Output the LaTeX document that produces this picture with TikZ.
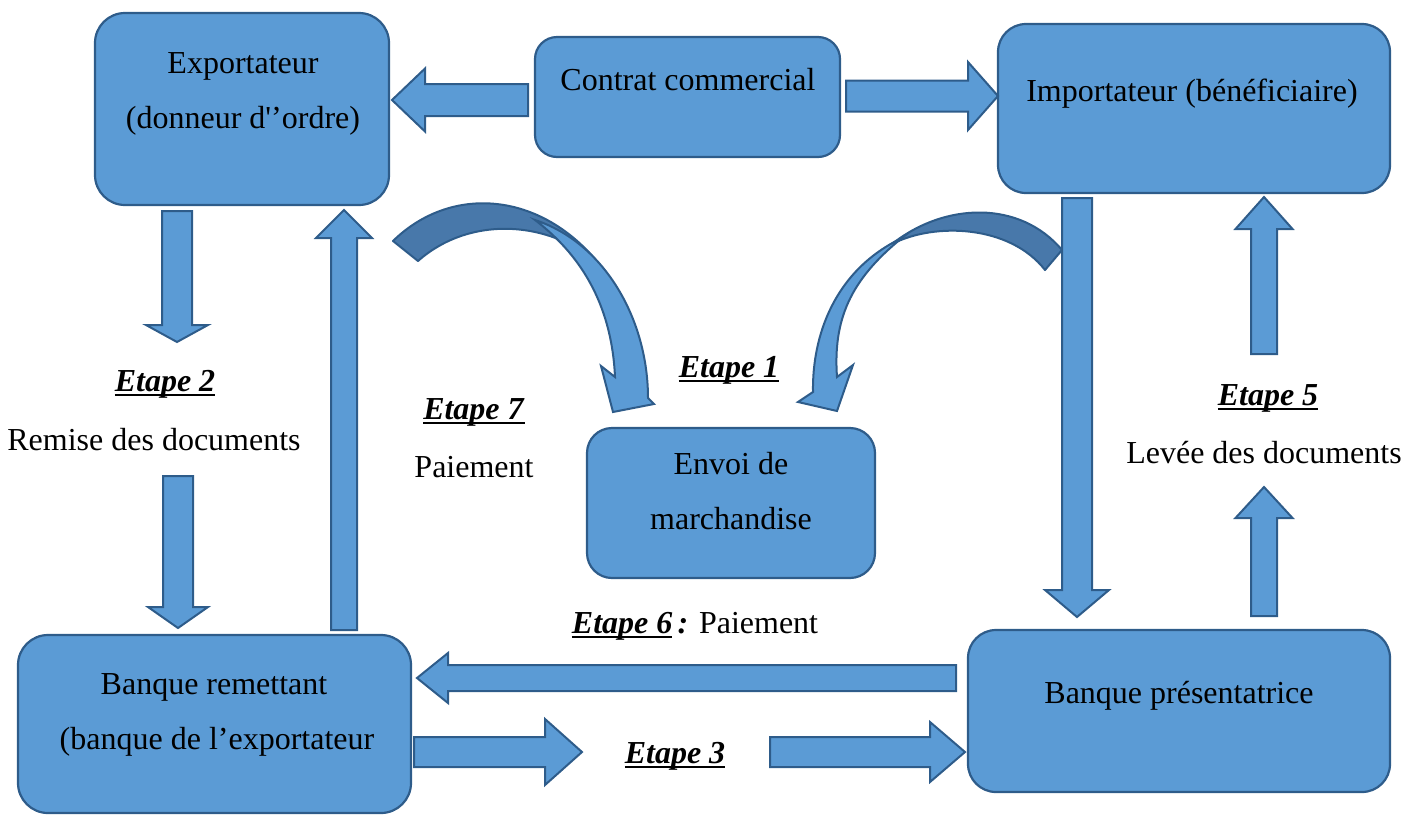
\documentclass[tikz,border=0pt]{standalone}
\usepackage{fontspec}
\setmainfont{Liberation Serif}
\definecolor{fillblue}{HTML}{5B9BD5}
\definecolor{darkblue}{HTML}{4878AA}
\definecolor{edgeblue}{HTML}{2E5C8A}
\newcommand\myul[1]{\setbox0\hbox{#1}\rlap{\rule[-5pt]{\wd0}{2.4pt}}\box0}
\newcommand\etp[1]{\myul{\textbf{\textit{#1}}}}
% horizontal block arrow: tail x, tip x, head-base x, centre y, shaft half, head half
\newcommand\harrow[6]{\draw[barrow] (#1,#4-#5) -- (#3,#4-#5) -- (#3,#4-#6) -- (#2,#4) -- (#3,#4+#6) -- (#3,#4+#5) -- (#1,#4+#5) -- cycle;}
% vertical block arrow: tail y, tip y, head-base y, centre x, shaft half, head half
\newcommand\varrow[6]{\draw[barrow] (#4-#5,#1) -- (#4-#5,#3) -- (#4-#6,#3) -- (#4,#2) -- (#4+#6,#3) -- (#4+#5,#3) -- (#4+#5,#1) -- cycle;}
\begin{document}
\begin{tikzpicture}[x=1pt,y=-1pt,
  box/.style={draw=edgeblue, fill=fillblue, line width=2.2pt, rectangle, inner sep=0pt},
  barrow/.style={draw=edgeblue, fill=fillblue, line width=2pt, line join=miter},
  curvedark/.style={draw=edgeblue, fill=darkblue, line width=2pt, line join=round},
  txt/.style={anchor=base, inner sep=0pt, font=\fontsize{32}{38}\selectfont}]
\useasboundingbox (0,0) rectangle (1416,815);

% boxes
\node[box, rounded corners=30pt, minimum width=294pt, minimum height=192pt] (exp) at (242,109) {};
\node[box, rounded corners=22pt, minimum width=305pt, minimum height=120pt] (con) at (687.5,97) {};
\node[box, rounded corners=28pt, minimum width=392pt, minimum height=169pt] (imp) at (1194,108.5) {};
\node[box, rounded corners=25pt, minimum width=288pt, minimum height=150pt] (env) at (731,503) {};
\node[box, rounded corners=30pt, minimum width=393pt, minimum height=178pt] (brm) at (214.5,724) {};
\node[box, rounded corners=28pt, minimum width=422pt, minimum height=162pt] (bpr) at (1179,711) {};

% curved arrows
\draw[curvedark] (393,241) .. controls (450,185) and (540,190) .. (600,265) .. controls (550,220) and (470,215) .. (418,261) -- cycle;
\draw[barrow] (535,220) .. controls (605,243) and (648,320) .. (648,398) -- (654,404) -- (613,412) -- (601,366) -- (615,377) .. controls (612,310) and (585,258) .. (535,220) -- cycle;
\draw[curvedark] (1062,250) .. controls (1020,200) and (945,202) .. (892,244) .. controls (935,222) and (1010,225) .. (1045,270) -- cycle;
\draw[barrow] (902,238) .. controls (835,270) and (812,335) .. (813,392) -- (798,402) -- (837,411) -- (853,365) -- (837,377) .. controls (833,320) and (850,280) .. (902,238) -- cycle;

% block arrows
\harrow{528}{392}{425}{100}{16}{31.5}
\harrow{846}{998}{968}{96}{15.5}{34}
\varrow{211}{342}{325}{177}{15}{31}
\varrow{476}{628}{607}{178}{15}{30}
\varrow{630}{210}{238}{344}{13}{28}
\varrow{198}{617}{590}{1077}{15}{32}
\varrow{354}{197}{229}{1264}{13}{28.5}
\varrow{616}{487}{518}{1264}{13}{28.5}
\harrow{956}{417}{448}{678}{13}{25}
\harrow{414}{582}{545}{752}{15}{33}
\harrow{770}{965}{930}{752}{15}{30}

% texts
\node[txt] (t1) at (243,73) {Exportateur};
\node[txt] (t2) at (243,128) {(donneur d\textquotesingle’ordre)};
\node[txt] (t3) at (688,90) {Contrat commercial};
\node[txt] (t4) at (1192,101) {Importateur (bénéficiaire)};
\node[txt] (t5) at (165,391) {\etp{Etape 2}};
\node[txt] (t6) at (154,450) {Remise des documents};
\node[txt] (t7) at (474,419) {\etp{Etape 7}};
\node[txt] (t8) at (474,477) {Paiement};
\node[txt] (t9) at (729,377) {\etp{Etape 1}};
\node[txt] (t10) at (731,474) {Envoi de};
\node[txt] (t11) at (731,529) {marchandise};
\node[txt] (t12) at (1268,405) {\etp{Etape 5}};
\node[txt] (t13) at (1264,463) {Levée des documents};
\node[txt] (t14) at (695,633) {\etp{Etape 6}\textbf{\textit{\,:}} Paiement};
\node[txt] (t15) at (214,694) {Banque remettant};
\node[txt] (t16) at (217,749) {(banque de l’exportateur};
\node[txt] (t17) at (1179,703) {Banque présentatrice};
\node[txt] (t18) at (675,763) {\etp{Etape 3}};
\end{tikzpicture}
\end{document}
